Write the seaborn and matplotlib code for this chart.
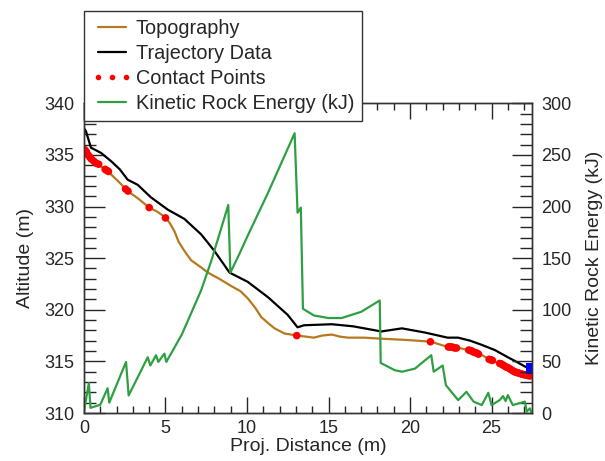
import numpy as np
import pandas as pd
import seaborn as sns
import matplotlib
matplotlib.use("Agg")
import matplotlib.pyplot as plt
from matplotlib.ticker import MultipleLocator
from matplotlib.lines import Line2D

sns.set_style("ticks")
plt.rcParams['font.family'] = ['Liberation Sans', 'DejaVu Sans']

# topography profile (m)
topo_x = [0, 0.12, 0.43, 0.8, 1.04, 1.46, 2.07, 2.68, 3.3, 4.0,
          4.5, 5.04, 5.3, 5.55, 5.8, 6.16, 6.57, 7.19, 7.6, 8.3,
          9.03, 9.6, 10.05, 10.5, 10.87, 11.3, 11.69, 12.3, 13.1, 13.6,
          14.1, 14.6, 15.2, 15.7, 16.2, 17.2, 18.24, 19.5, 20.5, 21.3,
          22.3, 23.0, 23.6, 24.3, 25.0, 25.7, 26.4, 27.0, 27.45]
topo_alt = [335.6, 335.4, 334.6, 334.2, 333.9, 333.4, 332.5, 331.5, 330.8, 329.9,
            329.5, 328.9, 328.3, 327.6, 326.6, 325.7, 324.8, 324.1, 323.6, 323.0,
            322.3, 321.8, 321.1, 320.2, 319.3, 318.7, 318.2, 317.7, 317.5, 317.4,
            317.3, 317.5, 317.6, 317.4, 317.3, 317.3, 317.2, 317.1, 317.0, 316.9,
            316.4, 316.3, 316.1, 315.7, 315.1, 314.6, 314.0, 313.7, 313.6]

# rock trajectory
traj_x = [0, 0.12, 0.43, 1.04, 1.66, 2.2, 2.68, 3.3, 4.1, 5.14, 6.16, 7.19, 8.0,
          8.93, 10.05, 11.3, 12.5, 13.1, 13.5, 15.2, 16.5, 18.24, 19.5, 20.9,
          22.3, 22.95, 23.7, 24.4, 25.2, 26.0, 26.6, 27.05, 27.45]
traj_alt = [337.6, 337.3, 335.7, 335.2, 334.4, 333.6, 332.6, 332.1, 330.9, 329.7, 328.8, 327.3, 325.7,
            323.6, 322.7, 321.2, 319.5, 318.3, 318.5, 318.6, 318.4, 317.9, 318.2, 317.8,
            317.3, 317.3, 317.0, 316.6, 316.1, 315.4, 314.9, 314.5, 314.3]

# contact points
contact_x = [0.05, 0.15, 0.25, 0.35, 0.45, 0.6, 0.75, 0.9, 1.3, 1.4, 1.5, 2.55, 2.7,
             4.0, 5.0, 13.05, 21.25, 22.35, 22.45, 22.55, 22.65, 22.75, 22.85,
             23.6, 23.7, 23.8, 23.9, 24.0, 24.1, 24.2, 24.85, 24.95, 25.05,
             25.5, 25.6, 25.7, 25.8, 25.9, 26.0, 26.1, 26.2, 26.3, 26.4, 26.5, 26.6,
             26.7, 26.8, 26.9, 27.0, 27.1, 27.2, 27.3, 27.4]
contact_alt = [335.5, 335.3, 335.0, 334.8, 334.6, 334.4, 334.2, 334.1, 333.6, 333.5, 333.4, 331.7, 331.5,
               329.9, 328.9, 317.5, 316.9, 316.4, 316.4, 316.4, 316.35, 316.3, 316.3,
               316.1, 316.05, 316.0, 315.9, 315.85, 315.8, 315.7, 315.2, 315.15, 315.1,
               314.8, 314.75, 314.65, 314.55, 314.45, 314.4, 314.3, 314.2, 314.1, 314.0, 313.95, 313.9,
               313.85, 313.8, 313.75, 313.7, 313.7, 313.65, 313.6, 313.6]

# kinetic energy (kJ)
energy_x = [0, 0.3, 0.4, 1.0, 1.45, 1.55, 2.58, 2.74, 3.91, 4.07, 4.42, 4.56, 4.93, 5.05,
            5.5, 6.0, 6.5, 7.19, 7.8, 8.4, 8.85, 8.98, 9.5, 10.05, 11.28, 12.1, 12.92,
            13.1, 13.3, 13.43, 14.1, 15.0, 15.8, 17.0, 18.14, 18.2, 19.06, 19.5, 20.3,
            21.3, 21.45, 22.0, 22.2, 22.95, 23.46, 23.9, 24.4, 24.8, 25.0, 25.5, 25.7,
            25.86, 26.0, 26.3, 27.05, 27.15, 27.35, 27.45]
energy_kj = [2, 29, 5, 8, 24, 10, 49.5, 17, 54, 46, 56, 49.5, 57.5, 49.5,
             62, 76, 94, 119, 147, 178, 201.5, 136, 153, 172, 213, 242, 271,
             194, 199, 101, 94.5, 92, 92, 98, 109, 48.5, 41.5, 40, 43,
             56, 40, 46, 27, 12.5, 20.5, 11, 7.7, 19.6, 7.7, 12.5, 16.4,
             11.6, 17.4, 7.7, 11, 1.3, 4.5, 0]

brown = '#b5791f'
green = '#2ea043'

fig = plt.figure(figsize=(6.05, 4.61), dpi=100)
ax = fig.add_axes([0.1388, 0.1041, 0.7400, 0.6718])
ax2 = ax.twinx()

sns.lineplot(x=topo_x, y=topo_alt, ax=ax, color=brown, lw=1.6, sort=False, estimator=None)
sns.scatterplot(x=contact_x, y=contact_alt, ax=ax, color='red', s=30, edgecolor='none', zorder=3)
sns.lineplot(x=traj_x, y=traj_alt, ax=ax, color='black', lw=1.6, sort=False, estimator=None)
sns.scatterplot(x=traj_x[-1:], y=traj_alt[-1:], ax=ax, color='blue', marker='s', s=60,
                edgecolor='none', zorder=4)
sns.lineplot(x=energy_x, y=energy_kj, ax=ax2, color=green, lw=1.6, sort=False, estimator=None)

ax.set_xlim(0, 27.46)
ax.set_ylim(310, 340)
ax2.set_ylim(0, 300)

ax.xaxis.set_major_locator(MultipleLocator(5))
ax.xaxis.set_minor_locator(MultipleLocator(1))
ax.yaxis.set_major_locator(MultipleLocator(5))
ax.yaxis.set_minor_locator(MultipleLocator(1))
ax2.yaxis.set_major_locator(MultipleLocator(50))
ax2.yaxis.set_minor_locator(MultipleLocator(10))

ax.tick_params(axis='x', which='both', direction='in', top=True, bottom=True, labelsize=13, pad=5)
ax.tick_params(axis='x', which='major', length=11.5, width=1)
ax.tick_params(axis='x', which='minor', length=5, width=1)
ax.tick_params(axis='y', which='both', direction='in', left=True, right=False, labelsize=13, pad=7)
ax.tick_params(axis='y', which='major', length=15, width=1)
ax.tick_params(axis='y', which='minor', length=8.5, width=1)
ax2.tick_params(axis='y', which='both', direction='in', right=True, labelsize=13, pad=7)
ax2.tick_params(axis='y', which='major', length=14.5, width=1)
ax2.tick_params(axis='y', which='minor', length=8.5, width=1)

for a in (ax, ax2):
    for s in a.spines.values():
        s.set_linewidth(1)
        s.set_color('#333333')

ax.set_xlabel('Proj. Distance (m)', fontsize=14, labelpad=1)
ax.set_ylabel('Altitude (m)', fontsize=14, labelpad=7)
ax2.set_ylabel('Kinetic Rock Energy (kJ)', fontsize=14, labelpad=10)

handles = [
    Line2D([], [], color=brown, lw=1.6),
    Line2D([], [], color='black', lw=1.6),
    Line2D([], [], color='red', marker='o', ls='none', markersize=3),
    Line2D([], [], color=green, lw=1.6),
]
labels = ['Topography', 'Trajectory Data', 'Contact Points', 'Kinetic Rock Energy (kJ)']
leg = ax2.legend(handles, labels, loc='upper left', bbox_to_anchor=(84 / 605, 1 - 11 / 461),
                 bbox_transform=fig.transFigure, fontsize=14.3, frameon=True, fancybox=False,
                 framealpha=1, edgecolor='#333333', borderpad=0.4, labelspacing=0.3,
                 handlelength=2.0, handletextpad=0.2, borderaxespad=0, numpoints=3)
leg.get_frame().set_linewidth(1)
leg.set_zorder(10)

fig.savefig('out.png', dpi=100)
